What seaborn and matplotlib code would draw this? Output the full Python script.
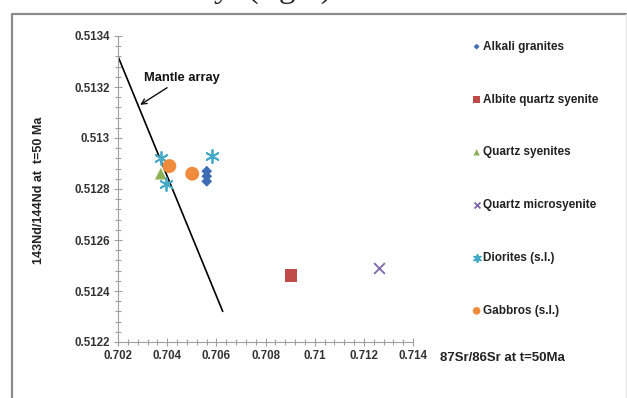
import numpy as np
import pandas as pd
import matplotlib
matplotlib.use("Agg")
import matplotlib.pyplot as plt
from matplotlib.lines import Line2D
from matplotlib.ticker import MultipleLocator, FuncFormatter
import seaborn as sns

# Données (87Sr/86Sr, 143Nd/144Nd à t=50 Ma)
groups = ["Alkali granites", "Albite quartz syenite", "Quartz syenites",
          "Quartz microsyenite", "Diorites (s.l.)", "Gabbros (s.l.)"]

alkali_sr = [0.70561, 0.70561, 0.70561]
alkali_nd = [0.51287, 0.51285, 0.51283]
albite_sr = [0.70903]
albite_nd = [0.51246]
qsyen_sr = [0.70374]
qsyen_nd = [0.51286]
qmicro_sr = [0.71262]
qmicro_nd = [0.51249]
dior_sr = [0.70374, 0.70395, 0.70581]
dior_nd = [0.51292, 0.51282, 0.51293]
gabbro_sr = [0.70409, 0.70502]
gabbro_nd = [0.51289, 0.51286]

mantle_sr = [0.7020, 0.70626]
mantle_nd = [0.51332, 0.51232]

xticks = [0.702, 0.704, 0.706, 0.708, 0.710, 0.712, 0.714]
yticks = [0.5122, 0.5124, 0.5126, 0.5128, 0.5130, 0.5132, 0.5134]

colors = ["#3F6DB3", "#BE4B48", "#8DB255", "#7E66A8", "#45A9C8", "#F08A3C"]
markers = ["D", "s", "^", "x", (6, 2, 0), "o"]
sizes = [30, 80, 70, 60, 90, 100]

all_sr = [alkali_sr, albite_sr, qsyen_sr, qmicro_sr, dior_sr, gabbro_sr]
all_nd = [alkali_nd, albite_nd, qsyen_nd, qmicro_nd, dior_nd, gabbro_nd]

df = pd.concat([pd.DataFrame({"sr": s, "nd": n, "group": g})
                for g, s, n in zip(groups, all_sr, all_nd)], ignore_index=True)

sns.set_style("white")
plt.rcParams["font.family"] = ["Liberation Sans Narrow", "Liberation Sans", "DejaVu Sans"]

fig = plt.figure(figsize=(6.27, 3.98), dpi=100)
ax = fig.add_axes([118 / 627, 1 - 342 / 398, 295 / 627, 306 / 398])

# Mantle array
sns.lineplot(x=mantle_sr, y=mantle_nd, ax=ax, color="black", linewidth=1.2)

for g, c, m, sz in zip(groups, colors, markers, sizes):
    sub = df[df["group"] == g]
    lw = 1.3 if m in ("x", (6, 2, 0)) else 0
    sns.scatterplot(data=sub, x="sr", y="nd", ax=ax, color=c, marker=m, s=sz,
                    linewidth=lw, edgecolor=c if lw else "none", label=g, zorder=3)

ax.set_xlim(0.702, 0.714)
ax.set_ylim(0.5122, 0.5134)
ax.set_xticks(xticks)
ax.set_yticks(yticks)
ax.xaxis.set_minor_locator(MultipleLocator(0.0004))
ax.yaxis.set_minor_locator(MultipleLocator(0.00004))
fmt = FuncFormatter(lambda v, p: "{:g}".format(round(v, 6)))
ax.xaxis.set_major_formatter(fmt)
ax.yaxis.set_major_formatter(fmt)
ax.tick_params(which="both", bottom=True, left=True, direction="inout",
               color="#A0A0A0", width=0.8)
ax.tick_params(which="major", length=6, labelsize=8.3, labelcolor="#333333", pad=3)
ax.tick_params(which="minor", length=5)
for lab in ax.get_xticklabels() + ax.get_yticklabels():
    lab.set_fontweight("bold")

for sp in ["top", "right"]:
    ax.spines[sp].set_visible(False)
for sp in ["left", "bottom"]:
    ax.spines[sp].set_color("#A0A0A0")
    ax.spines[sp].set_linewidth(0.8)

ax.set_xlabel("")
ax.set_ylabel("")
fig.text(39 / 627, 1 - 190 / 398, "143Nd/144Nd at  t=50 Ma", rotation=90,
         ha="center", va="center", fontsize=9, fontweight="bold", color="#222222")
fig.text(440 / 627, 1 - 358 / 398, "87Sr/86Sr at t=50Ma", ha="left", va="center",
         fontsize=9.5, fontweight="bold", color="#222222")

ax.annotate("Mantle array", xy=(0.70290, 0.51313), xytext=(0.70305, 0.51321),
            fontsize=9.3, fontweight="bold", color="#111111", ha="left", va="bottom",
            arrowprops=dict(arrowstyle="->", color="#111111", lw=1.0,
                            shrinkA=0, shrinkB=0))

handles, labels = ax.get_legend_handles_labels()
leg = ax.legend(handles, labels, loc="upper left",
                bbox_to_anchor=(466 / 627, 1 - 36 / 398), bbox_transform=fig.transFigure,
                frameon=False, fontsize=8.5, labelspacing=3.46, handletextpad=0.0,
                handlelength=1.0, markerscale=0.55, borderaxespad=0)
for t in leg.get_texts():
    t.set_fontweight("bold")
    t.set_color("#222222")

# Cadre de la figure
fx = [12 / 627, 12 / 627, 626 / 627, 626 / 627]
fy = [0.0, 1 - 14 / 398, 1 - 14 / 398, 0.0]
fig.add_artist(Line2D(fx[:3], fy[:3], color="#8C8C8C", linewidth=1.6,
                      transform=fig.transFigure))
fig.add_artist(Line2D(fx[2:], fy[2:], color="#E4E4E4", linewidth=1.0,
                      transform=fig.transFigure))

# Légende de figure coupée en haut
fig.text(214 / 627, 1 + 3 / 398, "y  (fig.9)", fontsize=24, family="Liberation Serif",
         ha="left", va="baseline", color="#222222")

fig.savefig("out.png", dpi=100)
